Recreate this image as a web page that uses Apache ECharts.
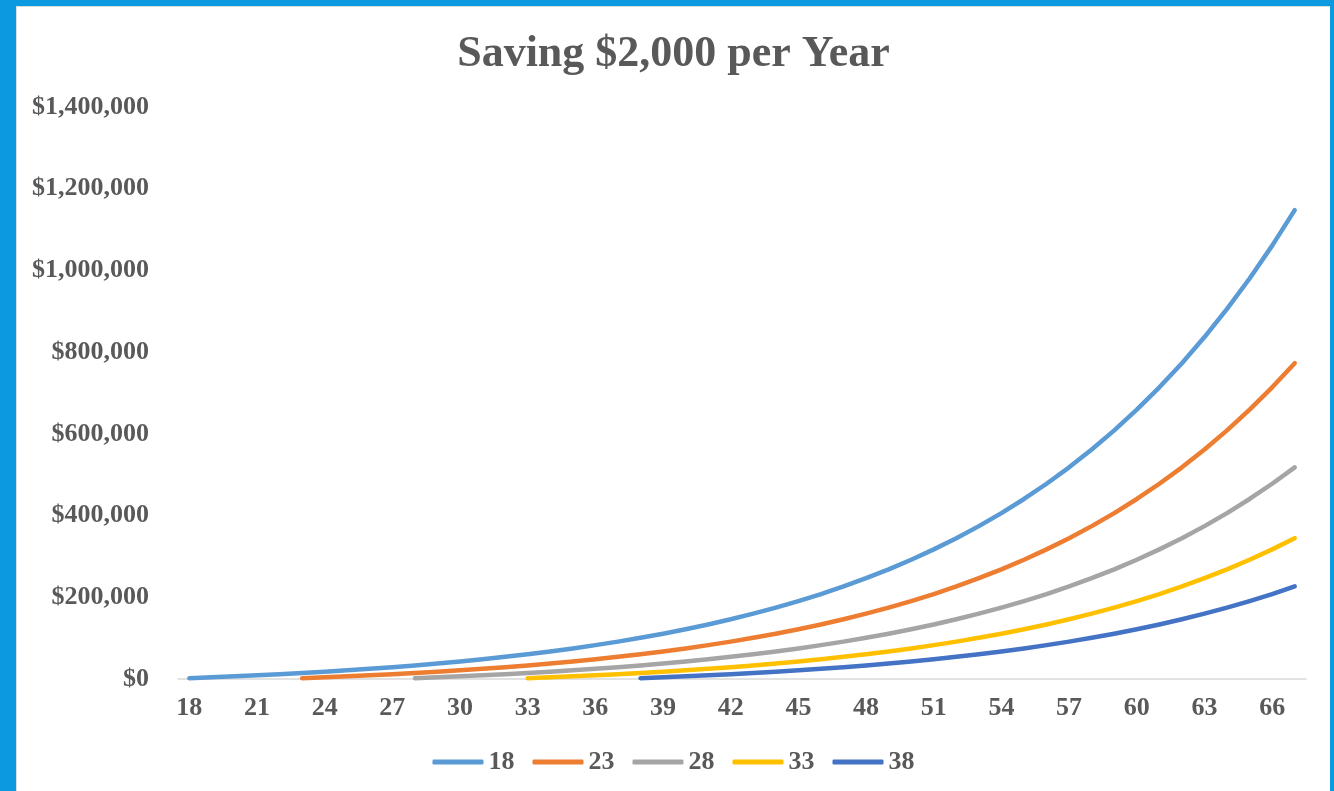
<!DOCTYPE html>
<html>
<head>
<meta charset="utf-8">
<script src="https://cdn.jsdelivr.net/npm/echarts@6/dist/echarts.min.js"></script>
<style>
html,body{margin:0;padding:0;width:1334px;height:791px;overflow:hidden;background:#0b99df;}
#frame{position:absolute;left:16px;top:6px;width:1313px;height:790px;background:#fff;border-left:1px solid #d6dde2;border-top:1px solid #d6dde2;}
#chart{position:absolute;left:0;top:0;width:1313px;height:790px;}
</style>
</head>
<body>
<div id="frame"><div id="chart"></div></div>
<script>
const ages = [18,19,20,21,22,23,24,25,26,27,28,29,30,31,32,33,34,35,36,37,38,39,40,41,42,
  43,44,45,46,47,48,49,50,51,52,53,54,55,56,57,58,59,60,61,62,63,64,65,66,67];

const start18 = 18;
const values18 = [2000,4200,6500,9000,11700,14700,17800,21300,25000,29000,33300,38000,43000,48400,54300,
  60600,67500,74900,82900,91500,100800,110900,121800,133500,146200,159900,174700,190700,207900,226600,
  246700,268400,291900,317300,344600,374200,406100,440600,477900,518100,561600,608500,659200,713900,773000,
  836900,905800,980300,1060700,1147500];

const start23 = 23;
const values23 = [2000,4200,6500,9000,11700,14700,17800,21300,25000,29000,33300,38000,43000,48400,54300,
  60600,67500,74900,82900,91500,100800,110900,121800,133500,146200,159900,174700,190700,207900,226600,
  246700,268400,291900,317300,344600,374200,406100,440600,477900,518100,561600,608500,659200,713900,773000];

const start28 = 28;
const values28 = [2000,4200,6500,9000,11700,14700,17800,21300,25000,29000,33300,38000,43000,48400,54300,
  60600,67500,74900,82900,91500,100800,110900,121800,133500,146200,159900,174700,190700,207900,226600,
  246700,268400,291900,317300,344600,374200,406100,440600,477900,518100];

const start33 = 33;
const values33 = [2000,4200,6500,9000,11700,14700,17800,21300,25000,29000,33300,38000,43000,48400,54300,
  60600,67500,74900,82900,91500,100800,110900,121800,133500,146200,159900,174700,190700,207900,226600,
  246700,268400,291900,317300,344600];

const start38 = 38;
const values38 = [2000,4200,6500,9000,11700,14700,17800,21300,25000,29000,33300,38000,43000,48400,54300,
  60600,67500,74900,82900,91500,100800,110900,121800,133500,146200,159900,174700,190700,207900,226600];

const seriesNames = ['18','23','28','33','38'];
const seriesColors = ['#5b9bd5','#ed7d31','#a5a5a5','#ffc000','#4472c4'];

function pad(start, vals){
  const out = [];
  ages.forEach(a => { out.push(a < start ? null : vals[a - start]); });
  return out;
}
const seriesData = [pad(start18,values18),pad(start23,values23),pad(start28,values28),pad(start33,values33),pad(start38,values38)];

const FONT = '"Liberation Serif", "Times New Roman", serif';
const chart = echarts.init(document.getElementById('chart'), null, {renderer:'canvas'});
chart.setOption({
  animation:false,
  backgroundColor:'#ffffff',
  title:{
    text:'Saving $2,000 per Year',
    left:'center', top:21,
    textStyle:{fontFamily:FONT,fontWeight:'bold',fontSize:44,color:'#595959'}
  },
  legend:{
    bottom:17,
    left:'center',
    itemWidth:51, itemHeight:5, itemGap:18,
    icon:'roundRect',
    textStyle:{fontFamily:FONT,fontWeight:'bold',fontSize:26,color:'#595959',padding:[0,0,0,0]},
    data:seriesNames
  },
  grid:{left:161,right:24,top:100,bottom:118,containLabel:false},
  xAxis:{
    type:'category',
    data:ages,
    boundaryGap:true,
    axisLine:{lineStyle:{color:'#d9d9d9',width:1.5}},
    axisTick:{show:false},
    axisLabel:{interval:2,fontFamily:FONT,fontWeight:'bold',fontSize:26,color:'#595959',margin:16}
  },
  yAxis:{
    type:'value',
    min:0,max:1400000,interval:200000,
    axisLine:{show:false},
    axisTick:{show:false},
    splitLine:{show:false},
    axisLabel:{
      fontFamily:FONT,fontWeight:'bold',fontSize:26,color:'#595959',margin:29,
      formatter:v => '$' + v.toLocaleString('en-US')
    }
  },
  series: seriesNames.map((n,i) => ({
    name:n,
    type:'line',
    data:seriesData[i],
    symbol:'none',
    connectNulls:false,
    color:seriesColors[i],
    lineStyle:{width:4.5,color:seriesColors[i],cap:'round',join:'round'}
  }))
});
</script>
</body>
</html>
